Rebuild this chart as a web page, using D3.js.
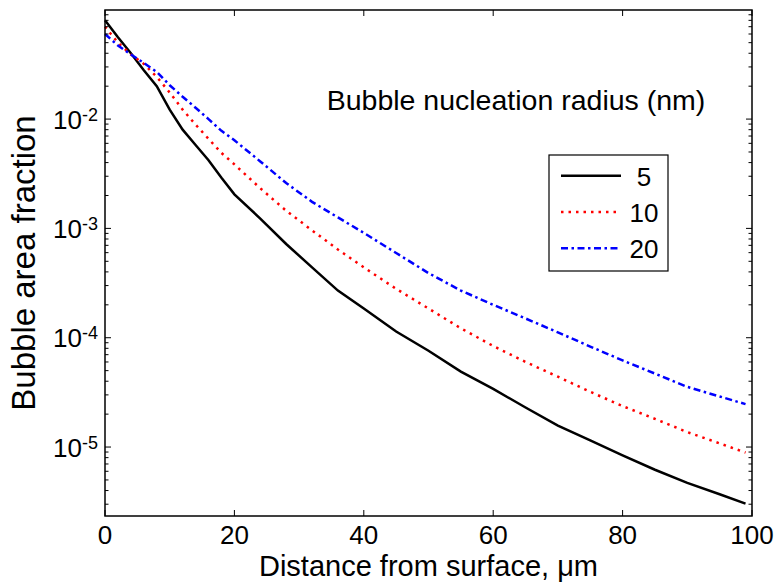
<!DOCTYPE html>
<html>
<head>
<meta charset="utf-8">
<script src="https://cdn.jsdelivr.net/npm/d3@7"></script>
<style>
    body { margin: 0; background: #fff; }
    svg { display: block; font-family: "Liberation Sans", Arial, sans-serif; }
</style>
</head>
<body>
<svg id="chart" width="779" height="585"></svg>
<script>
// distance from surface (um)
const distance = [0, 2, 4, 6, 8, 10, 12, 14, 16, 18, 20, 24, 28, 32, 36, 40, 45, 50, 55, 60, 65, 70, 75, 80, 85, 90, 95, 99];

// bubble area fraction, nucleation radius 5 nm
const frac5 = [0.080, 0.056, 0.040, 0.028, 0.020, 0.0122, 0.0080, 0.0058, 0.0042, 0.0029, 0.00205, 0.00123,
    0.00072, 0.00044, 0.000270, 0.000185, 0.000114, 0.000076, 0.000049, 0.000034, 0.000023, 0.0000157,
    0.0000115, 0.0000084, 0.0000062, 0.0000047, 0.0000037, 0.00000304];

// 10 nm
const frac10 = [0.070, 0.050, 0.039, 0.032, 0.0243, 0.0175, 0.0122, 0.0089, 0.0066, 0.0049, 0.00385, 0.00233,
    0.00145, 0.00096, 0.00064, 0.00044, 0.00028, 0.000185, 0.000122, 0.000084, 0.000060, 0.000044,
    0.000032, 0.0000237, 0.0000181, 0.0000137, 0.0000108, 0.0000089];

// 20 nm
const frac20 = [0.060, 0.047, 0.039, 0.0326, 0.027, 0.0204, 0.0160, 0.0127, 0.0100, 0.0078, 0.0064, 0.0041,
    0.0026, 0.00175, 0.00126, 0.00091, 0.000596, 0.00039, 0.00027, 0.00020, 0.00015, 0.000112,
    0.000083, 0.000062, 0.000047, 0.0000355, 0.000029, 0.0000247];

const radii = ['5', '10', '20'];
const colors = ['#000000', '#ff0000', '#0000ff'];
const dashes = [null, '2.5,5', '7,3.5,2.5,3.5'];

const xTicks = [0, 20, 40, 60, 80, 100];
const yTickExps = [-2, -3, -4, -5];

const width = 779, height = 585;
const margin = {top: 10, right: 27, bottom: 69, left: 105};
const pw = width - margin.left - margin.right;
const ph = height - margin.top - margin.bottom;

const svg = d3.select('#chart');

const x = d3.scaleLinear().domain([0, 100]).range([0, pw]);
const y = d3.scaleLog().domain([2.34e-6, 0.0995]).range([ph, 0]);

const g = svg.append('g')
    .attr('transform', 'translate(' + margin.left + ',' + margin.top + ')');

// curves
const line = d3.line()
    .x(d => x(d[0]))
    .y(d => y(d[1]));

[frac5, frac10, frac20].forEach((series, i) => {
    g.append('path')
        .datum(distance.map((dd, j) => [dd, series[j]]))
        .attr('fill', 'none')
        .attr('stroke', colors[i])
        .attr('stroke-width', 2.5)
        .attr('stroke-dasharray', dashes[i])
        .attr('d', line);
});

// frame
g.append('rect')
    .attr('width', pw)
    .attr('height', ph)
    .attr('fill', 'none')
    .attr('stroke', '#000')
    .attr('stroke-width', 1.5);

// x ticks (inside, bottom and top)
xTicks.forEach(t => {
    g.append('line')
        .attr('x1', x(t)).attr('x2', x(t))
        .attr('y1', ph).attr('y2', ph - 6)
        .attr('stroke', '#000');
    g.append('line')
        .attr('x1', x(t)).attr('x2', x(t))
        .attr('y1', 0).attr('y2', 6)
        .attr('stroke', '#000');
    g.append('text')
        .attr('x', x(t))
        .attr('y', ph + 28)
        .attr('text-anchor', 'middle')
        .attr('font-size', 26)
        .text(t);
});

// y ticks: major and minor, both sides
const yMin = y.domain()[0], yMax = y.domain()[1];
const yTickVals = [];
for (let e = -6; e <= -1; e++) {
    for (let m = 1; m <= 9; m++) {
        const v = m * Math.pow(10, e);
        if (v >= yMin && v <= yMax) yTickVals.push({v: v, major: m === 1});
    }
}
yTickVals.forEach(t => {
    const len = t.major ? 6 : 3.5;
    g.append('line')
        .attr('x1', 0).attr('x2', len)
        .attr('y1', y(t.v)).attr('y2', y(t.v))
        .attr('stroke', '#000');
    g.append('line')
        .attr('x1', pw).attr('x2', pw - len)
        .attr('y1', y(t.v)).attr('y2', y(t.v))
        .attr('stroke', '#000');
});

yTickExps.forEach(e => {
    const txt = g.append('text')
        .attr('x', -7)
        .attr('y', y(Math.pow(10, e)) + 9.5)
        .attr('text-anchor', 'end')
        .attr('font-size', 26);
    txt.append('tspan').text('10');
    txt.append('tspan')
        .attr('dy', -8)
        .attr('font-size', 18)
        .text(String(e));
});

// axis labels
svg.append('text')
    .attr('x', margin.left + pw / 2)
    .attr('y', 576)
    .attr('text-anchor', 'middle')
    .attr('font-size', 29)
    .text('Distance from surface, \u03BCm');

svg.append('text')
    .attr('transform', 'translate(35,' + (margin.top + ph / 2) + ') rotate(-90)')
    .attr('text-anchor', 'middle')
    .attr('font-size', 33)
    .text('Bubble area fraction');

// annotation
svg.append('text')
    .attr('x', 516)
    .attr('y', 110)
    .attr('text-anchor', 'middle')
    .attr('font-size', 28.5)
    .text('Bubble nucleation radius (nm)');

// legend
const legend = svg.append('g');
legend.append('rect')
    .attr('x', 549).attr('y', 155)
    .attr('width', 119).attr('height', 116)
    .attr('fill', '#fff')
    .attr('stroke', '#000')
    .attr('stroke-width', 1.2);

radii.forEach((r, i) => {
    const ly = 175.7 + i * 36.3;
    legend.append('line')
        .attr('x1', 561).attr('x2', 621)
        .attr('y1', ly).attr('y2', ly)
        .attr('stroke', colors[i])
        .attr('stroke-width', 2.5)
        .attr('stroke-dasharray', dashes[i]);
    legend.append('text')
        .attr('x', 644)
        .attr('y', ly + 10)
        .attr('text-anchor', 'middle')
        .attr('font-size', 26)
        .text(r);
});
</script>
</body>
</html>
